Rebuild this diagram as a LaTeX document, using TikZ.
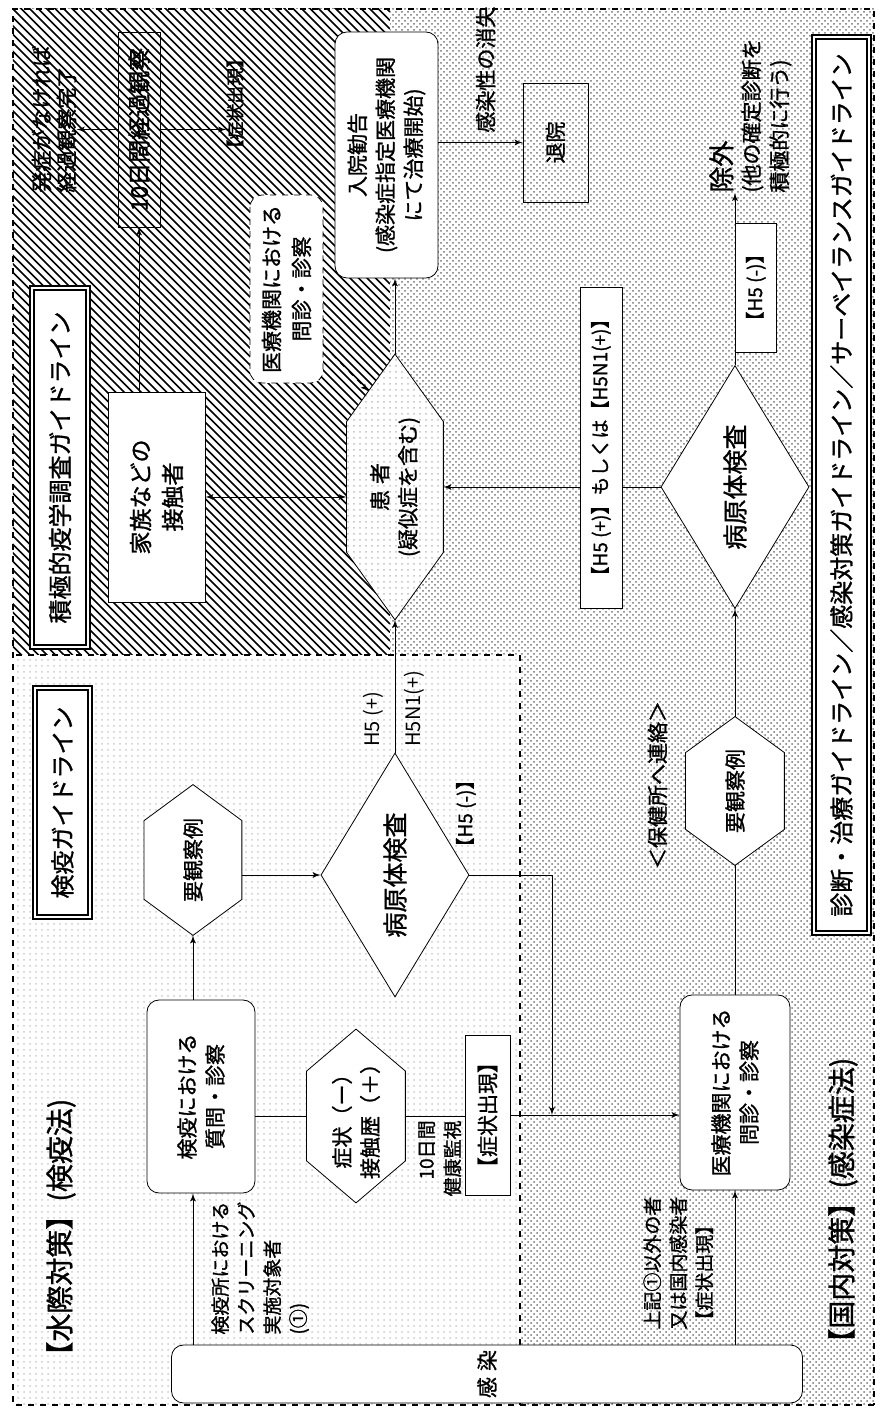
\documentclass[tikz,border=0pt]{standalone}
\usepackage{fontspec}
\setmainfont{Noto Sans CJK JP}[AutoFakeBold=1.2]
\usetikzlibrary{shapes,arrows,calc,patterns}
% text sizes
\newcommand\fbody{\fontsize{10.5}{14}\selectfont\bfseries}
\newcommand\fsmall{\fontsize{9.5}{13}\selectfont\bfseries}
\newcommand\fplain{\fontsize{10}{12}\selectfont}
\newcommand\fguide{\fontsize{12}{14}\selectfont\bfseries}
\newcommand\fhead{\fontsize{14}{16}\selectfont\bfseries}
\newcommand\fdia{\fontsize{12.5}{14}\selectfont\bfseries}
% long hexagon with pointed ends
\makeatletter
\newdimen\hexL \newdimen\hexR \newdimen\hexT \newdimen\hexB \newdimen\hexM \newdimen\hexC
\def\hexcutlen{10pt}
\pgfdeclareshape{hexbox}{
  \inheritsavedanchors[from=rectangle]
  \inheritanchorborder[from=rectangle]
  \inheritanchor[from=rectangle]{center}
  \inheritanchor[from=rectangle]{text}
  \inheritanchor[from=rectangle]{base}
  \inheritanchor[from=rectangle]{mid}
  \inheritanchor[from=rectangle]{north}
  \inheritanchor[from=rectangle]{south}
  \inheritanchor[from=rectangle]{east}
  \inheritanchor[from=rectangle]{west}
  \inheritanchor[from=rectangle]{north east}
  \inheritanchor[from=rectangle]{north west}
  \inheritanchor[from=rectangle]{south east}
  \inheritanchor[from=rectangle]{south west}
  \backgroundpath{
    \southwest \hexL=\pgf@x \hexB=\pgf@y
    \northeast \hexR=\pgf@x \hexT=\pgf@y
    \hexM=.5\hexB \advance\hexM by .5\hexT
    \hexC=\hexcutlen
    \pgfpathmoveto{\pgfqpoint{\hexL}{\hexM}}
    \advance\hexL by \hexC \advance\hexR by -\hexC
    \pgfpathlineto{\pgfqpoint{\hexL}{\hexT}}
    \pgfpathlineto{\pgfqpoint{\hexR}{\hexT}}
    \advance\hexR by \hexC
    \pgfpathlineto{\pgfqpoint{\hexR}{\hexM}}
    \advance\hexR by -\hexC
    \pgfpathlineto{\pgfqpoint{\hexR}{\hexB}}
    \pgfpathlineto{\pgfqpoint{\hexL}{\hexB}}
    \pgfpathclose
  }
}
\makeatother
\tikzset{hex cut/.code={\def\hexcutlen{#1}}}
\tikzstyle{line} = [draw, -latex']
\tikzstyle{link} = [draw]
\tikzstyle{box} = [rectangle, draw, align=center, inner sep=0pt, font=\fbody]
\tikzstyle{rbox} = [box, rounded corners=6pt, fill=white]
\tikzstyle{hexa} = [hexbox, draw, fill=white, inner sep=0pt, align=center, font=\fbody]
\tikzstyle{dia} = [diamond, draw, fill=white, inner sep=0pt, font=\fdia]
\tikzstyle{guide} = [rectangle, draw, double, double distance=1.2pt, line width=0.7pt, fill=white, inner sep=0pt, font=\fguide]
\tikzstyle{note} = [inner sep=0pt, align=left, font=\fsmall]

\begin{document}
\begin{tikzpicture}[rotate=90, transform shape, x=0.5pt, y=0.5pt]
  \useasboundingbox (0,0) rectangle (1410,877);
  % areas
  \fill[pattern=crosshatch dots, pattern color=black!55] (5,3) rectangle (1401,864);
  \fill[white] (5,357) rectangle (755,864);
  \fill[pattern=dots, pattern color=black!20] (5,357) rectangle (755,864);
  \begin{scope}
    \clip (755,487) rectangle (1401,864);
    \fill[white] (755,487) rectangle (1401,864);
    \foreach \i in {0,...,122}
      \draw[line width=0.8pt] ({378+8.5*\i},487) -- ++(380,380);
  \end{scope}
  \draw[dashed, thick] (5,3) rectangle (1401,864);
  \draw[dashed, thick] (5,357) -| (755,864);

  % quarantine
  \node[rbox, minimum width=29pt, minimum height=315.5pt] (kansen) at (36,390) {感\hspace{3pt}染};
  \node[rbox, minimum width=96.5pt, minimum height=54pt] (kenekiQ) at (313.5,676) {検疫における\\質問・診察};
  \node[hexa, minimum width=75pt, minimum height=48.5pt, hex cut=18pt] (yokan1) at (550,684) {要観察例};
  \node[hexa, minimum width=86.5pt, minimum height=49pt, hex cut=21pt] (shojoHex) at (294,521) {症状（ー）\\接触歴（＋）};
  \node[box, fill=white, minimum width=80pt, minimum height=22.5pt] (shojoQ) at (295,389.5) {【症状出現】};
  \node[dia, minimum width=122pt, minimum height=49.5pt] (byogen1) at (535,482) {病原体検査};
  \node[guide, minimum width=114.5pt, minimum height=27.5pt] (guideQ) at (607.5,814.5) {検疫ガイドライン};

  % investigation
  \node[guide, minimum width=179.5pt, minimum height=28pt] (guideE) at (942.5,817) {積極的疫学調査ガイドライン};
  \node[box, fill=white, minimum width=105pt, minimum height=48.5pt, font=\fontsize{11.5}{16}\selectfont\bfseries] (kazoku) at (913,720.5) {家族などの\\接触者};
  \node[box, minimum width=97.5pt, minimum height=21pt, font=\fontsize{11.5}{13}\selectfont\bfseries] (keika) at (1280.5,738) {10日間経過観察};
  \node[rbox, dashed, minimum width=94pt, minimum height=36.5pt, font=\fontsize{10.5}{15}\selectfont\bfseries] (iryoH) at (1121,590.5) {医療機関における\\問診・診察};
  \node[hexa, preaction={fill=white}, pattern=dots, pattern color=black!25, minimum width=132.5pt, minimum height=48pt, hex cut=33.75pt] (kanja) at (923,482) {患\hspace{3pt}者\\(疑似症を含む)};
  \node[rbox, minimum width=123pt, minimum height=51.5pt] (nyuin) at (1255,490.5) {入院勧告\\(感染症指定医療機関\\にて治療開始)};
  \node[box, minimum width=59.5pt, minimum height=32.5pt] (taiin) at (1267.5,321.5) {退院};

  % domestic
  \node[rbox, minimum width=97.5pt, minimum height=55pt] (iryo) at (317.5,142) {医療機関における\\問診・診察};
  \node[hexa, minimum width=74pt, minimum height=49pt, hex cut=18pt] (yokan2) at (619,142) {要観察例};
  \node[dia, minimum width=121.5pt, minimum height=49.5pt] (byogen2) at (923,142) {病原体検査};
  \node[guide, minimum width=448pt, minimum height=27.5pt] (guideD) at (925,35.5) {診断・治療ガイドライン／感染対策ガイドライン／サーベイランスガイドライン};

  % free texts
  \node[anchor=west, inner sep=0pt, font=\fhead] (headQ) at (40,816) {【水際対策】(検疫法)};
  \node[anchor=west, inner sep=0pt, font=\fhead] (headD) at (53,34) {【国内対策】(感染症法)};
  \node[note, anchor=north west] (screen) at (75,666) {検疫所における\\スクリーニング\\実施対象者\\(①)};
  \node[note, anchor=north west] (joki) at (80,234) {上記①以外の者\\又は国内感染者\\【症状出現】};
  \node[note, align=right, anchor=north east] (kenko) at (290,459) {10日間\\健康監視};
  \node[note, anchor=west, font=\fplain] (h5plus) at (663,503.5) {H5 (+)};
  \node[note, anchor=west, font=\fplain] (h5n1) at (663,463) {H5N1(+)};
  \node[note] (h5minus) at (596.5,411) {【H5 (-)】};
  \node[note, font=\fbody] (hokenjo) at (625,219.5) {＜保健所へ連絡＞};
  \node[note, anchor=west, font=\fontsize{10.5}{12.5}\selectfont\bfseries] (hassho) at (1217,823) {発症がなければ\\経過観察完了};
  \node[note, anchor=west, font=\fontsize{9}{11}\selectfont\bfseries] (shojoE) at (1252,642) {【症状出現】};
  \node[note, anchor=west, font=\fbody] (kansensei) at (1277,391.5) {感染性の消失};
  \node[note, anchor=north west, font=\fbody] (jogai) at (1217,168) {{\fontsize{13}{15}\selectfont 除外}\\(他の確定診断を\\積極的に行う)};

  % connectors
  \coordinate (join) at (295,325);
  \coordinate (kanjaNE) at ($(kanja.north east)!0.255!(kanja.north west)$);
  \path[line] (kansen.east |- yokan1.west) -- (kenekiQ.west |- yokan1.west);
  \path[line] (kansen.east |- iryo.west) -- (iryo.west);
  \path[line] (kenekiQ.east |- yokan1.west) -- (yokan1.west);
  \path[link] (shojoHex.north) -- (shojoHex.north |- kenekiQ.south);
  \path[link] (shojoHex.south) -- (shojoHex.south |- shojoQ.north);
  \path[line] (shojoQ.south) -- (shojoQ.south |- iryo.north);
  \path[line] (byogen1.north |- yokan1.south) -- (byogen1.north);
  \path[line] (byogen1.east) -- (kanja.west);
  \path[line] (byogen1.south) |- (join);
  \path[link] (iryo.east) -- (yokan2.west);
  \path[line] (yokan2.east) -- (byogen2.west);
  \path[line] (byogen2.north) -- (kanja.south);
  \path[line] (byogen2.east) -- (jogai.west |- byogen2.east);
  \path[line] (kanja.east) -- (kanja.east -| nyuin.west);
  \path[line] (taiin.north |- nyuin.south) -- (taiin.north);
  \path[line, latex'-latex'] (kazoku.south) -- (kazoku.south |- kanja.north);
  \path[line] (kazoku.east |- keika.west) -- (keika.west);
  \path[line] (keika.north) -- (keika.north |- hassho.south);
  \path[line] (keika.south) -- (keika.south |- shojoE.north);
  \path[line, dashed] ($(iryoH.south west)!0.2!(iryoH.south east)$) -- ($(kanja.east)!0.55!(kanjaNE)$);

  % result boxes on the lines
  \node[box, fill=white, minimum width=160.5pt, minimum height=21pt, font=\fsmall] (h5p) at (962.5,276) {【H5 (+)】もしくは【H5N1(+)】};
  \node[box, fill=white, anchor=north, minimum width=64.5pt, minimum height=20.5pt, font=\fsmall] (h5m) at (1122.5,142) {【H5 (-)】};
\end{tikzpicture}
\end{document}
